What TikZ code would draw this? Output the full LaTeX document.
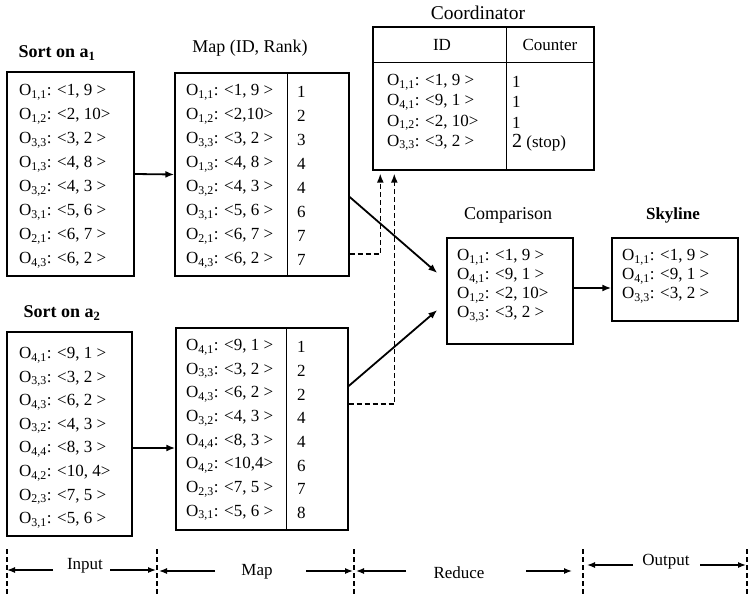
\documentclass[tikz,border=0pt]{standalone}
\usepackage{fontspec}
\setmainfont{Liberation Serif}
\usetikzlibrary{arrows.meta,calc}
\newcommand\Ob[2]{O\textsubscript{#1}: #2}
\begin{document}
\begin{tikzpicture}[x=1pt,y=-1pt, font=\fontsize{17}{20}\selectfont,
  box/.style={draw, line width=1.4pt, inner sep=0pt},
  row/.style={anchor=west, inner sep=0pt},
  ttl/.style={inner sep=0pt, font=\fontsize{18}{20}\selectfont\bfseries},
  ttlr/.style={inner sep=0pt, font=\fontsize{18}{20}\selectfont},
  lab/.style={inner sep=0pt},
  arr/.style={line width=1.8pt, -{Latex[length=9pt,width=7pt]}},
  darr/.style={line width=1.4pt, dash pattern=on 5pt off 3pt, -{Latex[length=9pt,width=7pt]}, shorten >=3pt},
  tick/.style={line width=1.4pt, dash pattern=on 5pt off 3pt},
  legarr/.style={line width=1.3pt, -{Latex[length=8pt,width=6pt]}},
  sep/.style={line width=1.4pt}]
\useasboundingbox (0,0) rectangle (749,596);

% ---------- Sort on a1 ----------
\node[ttl] (t1) at (57,53) {Sort on a\textsubscript{1}};
\node[box, minimum width=127pt, minimum height=204pt] (s1) at (70.5,174) {};
\foreach \t [count=\i] in {{\Ob{1,1}{<1, 9 >}},{\Ob{1,2}{<2, 10>}},{\Ob{3,3}{<3, 2 >}},{\Ob{1,3}{<4, 8 >}},{\Ob{3,2}{<4, 3 >}},{\Ob{3,1}{<5, 6 >}},{\Ob{2,1}{<6, 7 >}},{\Ob{4,3}{<6, 2 >}}}
  \node[row] (s1r\i) at (19,{92+24*(\i-1)}) {\t};

% ---------- Map (ID, Rank) top ----------
\node[ttlr] (t2) at (250,48) {Map (ID, Rank)};
\node[box, minimum width=174pt, minimum height=203pt] (m1) at (262,174.5) {};
\draw[sep] (m1.north west) ++(113,0) -- ++(0,203);
\foreach \t [count=\i] in {{\Ob{1,1}{<1, 9 >}},{\Ob{1,2}{<2,10>}},{\Ob{3,3}{<3, 2 >}},{\Ob{1,3}{<4, 8 >}},{\Ob{3,2}{<4, 3 >}},{\Ob{3,1}{<5, 6 >}},{\Ob{2,1}{<6, 7 >}},{\Ob{4,3}{<6, 2 >}}}
  \node[row] (m1r\i) at (186,{92+24*(\i-1)}) {\t};
\foreach \t [count=\i] in {1,2,3,4,4,6,7,7}
  \node[row] (m1k\i) at (297,{92+24*(\i-1)}) {\t};

% ---------- Sort on a2 ----------
\node[ttl] (t3) at (62,313) {Sort on a\textsubscript{2}};
\node[box, minimum width=125pt, minimum height=204pt] (s2) at (69.5,434) {};
\foreach \t [count=\i] in {{\Ob{4,1}{<9, 1 >}},{\Ob{3,3}{<3, 2 >}},{\Ob{4,3}{<6, 2 >}},{\Ob{3,2}{<4, 3 >}},{\Ob{4,4}{<8, 3 >}},{\Ob{4,2}{<10, 4>}},{\Ob{2,3}{<7, 5 >}},{\Ob{3,1}{<5, 6 >}}}
  \node[row] (s2r\i) at (19,{355+23.6*(\i-1)}) {\t};

% ---------- Map bottom ----------
\node[box, minimum width=172pt, minimum height=202pt] (m2) at (262,429) {};
\draw[sep] (m2.north west) ++(111,0) -- ++(0,202);
\foreach \t [count=\i] in {{\Ob{4,1}{<9, 1 >}},{\Ob{3,3}{<3, 2 >}},{\Ob{4,3}{<6, 2 >}},{\Ob{3,2}{<4, 3 >}},{\Ob{4,4}{<8, 3 >}},{\Ob{4,2}{<10,4>}},{\Ob{2,3}{<7, 5 >}},{\Ob{3,1}{<5, 6 >}}}
  \node[row] (m2r\i) at (186,{347+23.7*(\i-1)}) {\t};
\foreach \t [count=\i] in {1,2,2,4,4,6,7,8}
  \node[row] (m2k\i) at (297,{347+23.7*(\i-1)}) {\t};

% ---------- Coordinator ----------
\node[ttlr, font=\fontsize{19.5}{22}\selectfont] (t4) at (478,13) {Coordinator};
\node[box, minimum width=221pt, minimum height=143pt] (co) at (483.5,98.5) {};
\draw[sep] (co.north west) ++(0,36) -- ++(221,0);
\draw[sep] (co.north west) ++(134,0) -- ++(0,143);
\node[lab] (coid) at (442,45) {ID};
\node[lab] (cocnt) at (550,45) {Counter};
\foreach \t [count=\i] in {{\Ob{1,1}{<1, 9 >}},{\Ob{4,1}{<9, 1 >}},{\Ob{1,2}{<2, 10>}},{\Ob{3,3}{<3, 2 >}}}
  \node[row] (cor\i) at (387,{82+20.3*(\i-1)}) {\t};
\foreach \t [count=\i] in {1,1,1,{{\fontsize{20}{22}\selectfont 2} (stop)}}
  \node[row] (cok\i) at (512,{82+20.3*(\i-1)}) {\t};

% ---------- Comparison ----------
\node[ttlr] (t5) at (508,215) {Comparison};
\node[box, minimum width=126pt, minimum height=106pt] (cmp) at (510,291) {};
\foreach \t [count=\i] in {{\Ob{1,1}{<1, 9 >}},{\Ob{4,1}{<9, 1 >}},{\Ob{1,2}{<2, 10>}},{\Ob{3,3}{<3, 2 >}}}
  \node[row] (cmr\i) at (457,{257+19*(\i-1)}) {\t};

% ---------- Skyline ----------
\node[ttl, font=\fontsize{17}{20}\selectfont\bfseries] (t6) at (673,215) {Skyline};
\node[box, minimum width=126pt, minimum height=83pt] (sky) at (675,279.5) {};
\foreach \t [count=\i] in {{\Ob{1,1}{<1, 9 >}},{\Ob{4,1}{<9, 1 >}},{\Ob{3,3}{<3, 2 >}}}
  \node[row] (skr\i) at (622,{257+19*(\i-1)}) {\t};

% ---------- connectors ----------
\draw[arr] (s1.east) -- (m1.west);
\draw[arr] (s2.east |- 0,448) -- (m2.west |- 0,448);
\draw[arr] (m1.east |- 0,197) -- ($(cmp.west)+(-9,-18)$);
\draw[arr] (m2.east |- 0,386) -- ($(cmp.west)+(-9,19)$);
\draw[arr] (cmp.east |- 0,288) -- (sky.west |- 0,288);
\draw[darr] (m1.east |- 0,254) -| ($(co.south west)+(8,0)$);
\draw[darr] (m2.east |- 0,404) -| ($(co.south west)+(22,0)$);

% ---------- phases legend ----------
\foreach \x/\n in {7/tA,157/tB,354/tC,583/tD,747/tE}{
  \coordinate (\n) at (\x,549);
  \draw[tick] (\n) -- (\n |- 0,596);
}
\node[lab] (lin) at (85,566) {Input};
\node[lab] (lmap) at (257,572) {Map};
\node[lab] (lred) at (459,573) {Reduce};
\node[lab] (lout) at (666,562) {Output};
\coordinate (a1) at (53,570);  \coordinate (a2) at (110,570);
\coordinate (a3) at (215,571); \coordinate (a4) at (306,571);
\coordinate (a5) at (406,571); \coordinate (a6) at (526,571);
\coordinate (a7) at (633,565); \coordinate (a8) at (700,565);
\draw[legarr] (a1) -- (tA |- a1);
\draw[legarr] (a2) -- ([xshift=-1pt]tB |- a2);
\draw[legarr] (a3) -- ([xshift=2pt]tB |- a3);
\draw[legarr] (a4) -- ([xshift=-1pt]tC |- a4);
\draw[legarr] (a5) -- ([xshift=2pt]tC |- a5);
\draw[legarr] (a6) -- ([xshift=-11pt]tD |- a6);
\draw[legarr] (a7) -- ([xshift=4pt]tD |- a7);
\draw[legarr] (a8) -- ([xshift=-1pt]tE |- a8);
\end{tikzpicture}
\end{document}
